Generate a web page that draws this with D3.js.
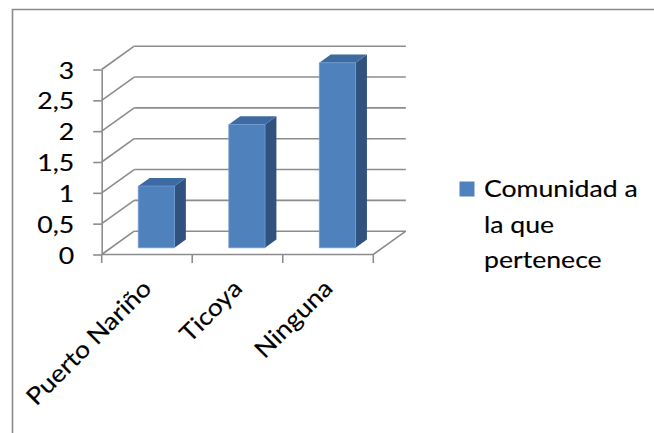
<!DOCTYPE html>
<html>
<head>
<meta charset="utf-8">
<script src="https://cdn.jsdelivr.net/npm/d3@7/dist/d3.min.js"></script>
<style>
  html, body { margin: 0; padding: 0; background: #fff; }
  svg { display: block; }
  text { font-family: Lato, "Open Sans", sans-serif; fill: #000; stroke: #000; stroke-width: 0.15px; }
</style>
</head>
<body>
<svg id="chart" width="654" height="433"></svg>
<script>
// Data
const categories = ["Puerto Nariño", "Ticoya", "Ninguna"];
const values = [1, 2, 3];
const yTicks = [0, 0.5, 1, 1.5, 2, 2.5, 3];
const yTickLabels = ["0", "0,5", "1", "1,5", "2", "2,5", "3"];
const legendLines = ["Comunidad a", "la que", "pertenece"];

// Colours
const gridColor = "#8c8c8c";
const barFront = "#4f81bd";
const barTop = "#3d6aa0";
const barSide = "#31527f";

const svg = d3.select("#chart");
const W = 654, H = 433;
const fontSize = 24;
const textStretch = "scale(1.11,1)";   // text is drawn slightly wide

// Front plane of the 3D box
const plotLeft = 101.7, plotRight = 373.3, plotBottom = 254.5, plotTop = 69.5;
// Depth vector (from front plane to back wall)
const depthX = 32.5, depthY = -23.3;
// Bars occupy this slice of the depth
const z0 = 0.29, z1 = 0.64;

const x = d3.scaleBand().domain(categories).range([plotLeft, plotRight])
  .paddingInner(0.6).paddingOuter(0.3);
const y = d3.scaleLinear().domain([0, 3]).range([plotBottom, plotTop]);

function P(px, v, z) { return [px + z * depthX, y(v) + z * depthY]; }
const line = d3.line();

// Outer frame (left and top edges)
svg.append("path")
  .attr("d", `M12.5,${H} V9.5 H${W}`)
  .attr("fill", "none").attr("stroke", "#8a8a8a").attr("stroke-width", 1.6);

const grid = svg.append("g").attr("fill", "none")
  .attr("stroke", gridColor).attr("stroke-width", 1.6);

// Side wall diagonals and back wall gridlines
yTicks.forEach(v => {
  grid.append("path").attr("d", line([P(plotLeft, v, 0), P(plotLeft, v, 1)]));
  grid.append("path").attr("d", line([P(plotLeft, v, 1), P(plotRight, v, 1)]));
});
// Floor front and right edges
grid.append("path").attr("d", line([P(plotLeft, 0, 0), P(plotRight, 0, 0), P(plotRight, 0, 1)]));

// Category tick marks along the floor's front edge
const step = x.step();
d3.range(categories.length + 1).forEach(i => {
  const px = plotLeft + i * step;
  grid.append("path").attr("d", line([[px, plotBottom], [px, plotBottom + 8.5]]));
});

// Value axis
const tickLen = 8.5, tickPad = 19;
const yAxis = d3.axisLeft(y)
  .tickValues(yTicks)
  .tickFormat((d, i) => yTickLabels[i])
  .tickSize(tickLen).tickSizeOuter(0).tickPadding(tickPad);
const ya = svg.append("g").attr("transform", `translate(${plotLeft},0)`).call(yAxis);
ya.select(".domain").attr("stroke", gridColor).attr("stroke-width", 1.6);
ya.selectAll(".tick line").attr("stroke", gridColor).attr("stroke-width", 1.6);
ya.selectAll(".tick text")
  .attr("font-size", fontSize).attr("font-family", "Lato, sans-serif")
  .attr("fill", "#000")
  .attr("x", 0).attr("dy", "0.36em")
  .attr("transform", `translate(${-(tickLen + tickPad)},0) ${textStretch}`);

// Bars
const bw = x.bandwidth();
const bars = svg.append("g");
categories.forEach((c, i) => {
  const v = values[i];
  const bx = x(c);
  const g = bars.append("g");
  g.append("path").attr("fill", barSide)
    .attr("d", line([P(bx + bw, 0, z0), P(bx + bw, 0, z1), P(bx + bw, v, z1), P(bx + bw, v, z0)]) + "Z");
  g.append("path").attr("fill", barTop)
    .attr("d", line([P(bx, v, z0), P(bx + bw, v, z0), P(bx + bw, v, z1), P(bx, v, z1)]) + "Z");
  g.append("path").attr("fill", barFront).attr("stroke", "#6f9bd2").attr("stroke-width", 0.8)
    .attr("d", line([P(bx, 0, z0), P(bx + bw, 0, z0), P(bx + bw, v, z0), P(bx, v, z0)]) + "Z");
});

// Rotated category labels (stretched along the baseline)
categories.forEach(c => {
  const cx = x(c) + bw / 2 + 6;
  svg.append("text")
    .attr("transform", `translate(${cx},290) rotate(-45) ${textStretch}`)
    .attr("text-anchor", "end")
    .attr("font-size", fontSize)
    .text(c);
});

// Legend
svg.append("rect")
  .attr("x", 459.5).attr("y", 181.5).attr("width", 15).attr("height", 15)
  .attr("fill", barFront);
legendLines.forEach((t, i) => {
  svg.append("text")
    .attr("transform", `translate(484,${197 + i * 35.5}) ${textStretch}`)
    .attr("font-size", fontSize).text(t);
});
</script>
</body>
</html>
